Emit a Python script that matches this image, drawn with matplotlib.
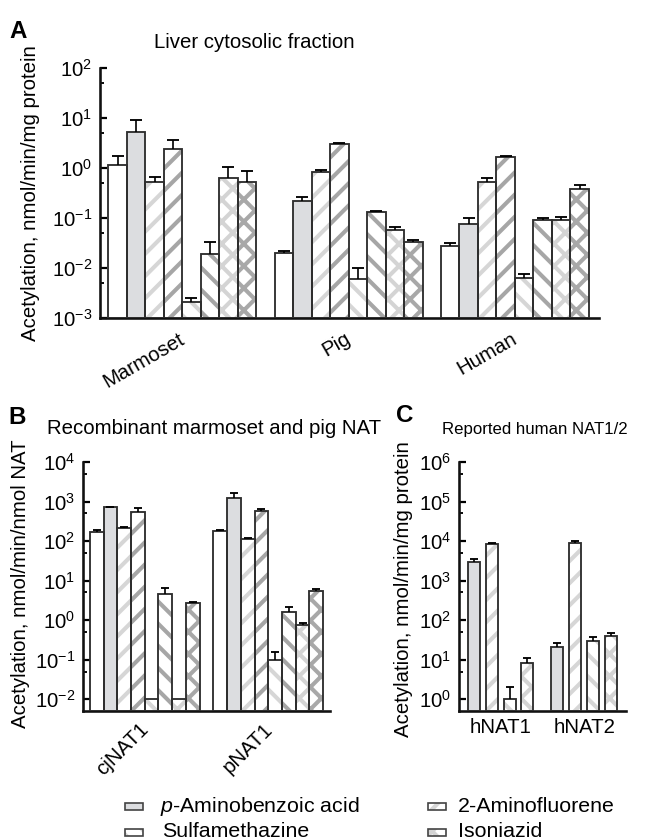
import numpy as np
import matplotlib
matplotlib.use("Agg")
import matplotlib.pyplot as plt
from matplotlib.patches import Rectangle
from matplotlib.ticker import FixedLocator, NullFormatter

plt.rcParams.update({
    "font.family": ["Liberation Sans", "DejaVu Sans"], "font.size": 11,
    "mathtext.fontset": "custom", "mathtext.rm": "Liberation Sans",
    "mathtext.it": "Liberation Sans:italic", "mathtext.bf": "Liberation Sans:bold",
    "hatch.linewidth": 2.2, "figure.facecolor": "white",
})

# ---- data (upper SD only) ----
SERIES = ["open", "paba", "af_light", "af_dark", "smz_light", "smz_dark", "inh_light", "inh_dark"]

A_GROUPS = ["Marmoset", "Pig", "Human"]
A_VALS = {
    "open":      [1.15, 0.020, 0.028],
    "paba":      [5.3, 0.22, 0.077],
    "af_light":  [0.52, 0.83, 0.53],
    "af_dark":   [2.4, 3.0, 1.65],
    "smz_light": [0.0021, 0.0060, 0.0064],
    "smz_dark":  [0.019, 0.13, 0.091],
    "inh_light": [0.62, 0.057, 0.091],
    "inh_dark":  [0.52, 0.033, 0.38],
}
A_ERR = {
    "open":      [0.6, 0.002, 0.003],
    "paba":      [3.8, 0.04, 0.025],
    "af_light":  [0.15, 0.10, 0.10],
    "af_dark":   [1.3, 0.10, 0.08],
    "smz_light": [0.0004, 0.004, 0.0012],
    "smz_dark":  [0.014, 0.01, 0.008],
    "inh_light": [0.42, 0.01, 0.012],
    "inh_dark":  [0.37, 0.003, 0.07],
}

B_GROUPS = ["cjNAT1", "pNAT1"]
B_VALS = {
    "open":      [165, 175],
    "paba":      [710, 1260],
    "af_light":  [210, 110],
    "af_dark":   [530, 560],
    "smz_light": [0.01, 0.095],
    "smz_dark":  [4.6, 1.6],
    "inh_light": [0.01, 0.74],
    "inh_dark":  [2.75, 5.3],
}
B_ERR = {
    "open":      [25, 15],
    "paba":      [15, 340],
    "af_light":  [12, 10],
    "af_dark":   [170, 90],
    "smz_light": [np.nan, 0.065],
    "smz_dark":  [1.9, 0.5],
    "inh_light": [np.nan, 0.11],
    "inh_dark":  [0.2, 1.0],
}

C_GROUPS = ["hNAT1", "hNAT2"]
C_SERIES = ["paba", "af_light", "smz_light", "inh_light"]
C_VALS = {
    "paba":      [2950, 21],
    "af_light":  [8300, 8900],
    "smz_light": [1.0, 29],
    "inh_light": [8.0, 40],
}
C_ERR = {
    "paba":      [550, 5],
    "af_light":  [700, 1100],
    "smz_light": [1.0, 8],
    "inh_light": [3.0, 7],
}

LEGEND = [("paba", r"$\it{p}$-Aminobenzoic acid"), ("af_light", "2-Aminofluorene"),
          ("smz_light", "Sulfamethazine"), ("inh_light", "Isoniazid")]

# ---- styling ----
# key -> (face, hatch, hatch colour)
STYLE = {
    "open":      ("white", "", None),
    "paba":      ("#dcdde0", "", None),
    "af_light":  ("white", "//", "#d6d6d6"),
    "af_dark":   ("white", "//", "#a6a6a6"),
    "smz_light": ("white", "\\\\", "#d6d6d6"),
    "smz_dark":  ("white", "\\\\", "#a6a6a6"),
    "inh_light": ("white", "xx", "#d4d4d4"),
    "inh_dark":  ("white", "xx", "#a8a8a8"),
}
EDGE = "#2e2e2e"
W, H, DPI = 669, 840, 133.8


def fx(x): return x / W
def fy(y): return 1 - y / H


def bars(ax, x, vals, errs, key, width, base, cap):
    face, hatch, hcol = STYLE[key]
    x = np.asarray(x, float)
    vals = np.asarray(vals, float)
    h = vals - base
    if hatch:
        ax.bar(x, h, width, bottom=base, color=face, edgecolor=hcol, hatch=hatch,
               linewidth=0, zorder=2)
    else:
        ax.bar(x, h, width, bottom=base, color=face, linewidth=0, zorder=2)
    ax.bar(x, h, width, bottom=base, fill=False, edgecolor=EDGE, linewidth=1.0, zorder=3)
    # upper error bar only: stem + one cap
    errs = np.asarray(errs, float)
    ok = ~np.isnan(errs)
    if ok.any():
        top = vals[ok] + errs[ok]
        ax.vlines(x[ok], vals[ok], top, color="black", lw=0.9, zorder=4)
        ax.plot(x[ok], top, ls="none", marker="_", ms=cap, mew=1.0, color="black", zorder=4)


def log_axis(ax, lo, hi, bottom):
    ax.set_yscale("log")
    ax.set_ylim(10.0 ** bottom, 10.0 ** hi)
    ks = list(range(lo, hi + 1))
    ax.set_yticks([10.0 ** k for k in ks], [r"$\mathregular{10^{%d}}$" % k for k in ks])
    ax.yaxis.set_minor_locator(FixedLocator([5 * 10.0 ** k for k in range(lo - 1, hi)
                                             if 5 * 10.0 ** k > 10.0 ** bottom]))
    ax.yaxis.set_minor_formatter(NullFormatter())
    ax.tick_params(axis="y", which="major", direction="in", length=4, width=1.2,
                   labelsize=11, pad=4)
    ax.tick_params(axis="y", which="minor", direction="in", length=2.2, width=1.0)
    ax.set_xticks([])
    for s in ("top", "right"):
        ax.spines[s].set_visible(False)
    for s in ("left", "bottom"):
        ax.spines[s].set_linewidth(1.4)
        ax.spines[s].set_color("#111111")


fig = plt.figure(figsize=(W / DPI, H / DPI), dpi=DPI)

# ===== A: liver cytosol =====
axA = fig.add_axes([fx(100), fy(318), 499 / W, 250 / H])
for i, key in enumerate(SERIES):
    xs = [0.45 + 9 * g + i + 0.5 for g in range(len(A_GROUPS))]
    bars(axA, xs, A_VALS[key], A_ERR[key], key, 1.0, 1e-3, 6)
axA.set_xlim(0, 27)
log_axis(axA, -3, 2, -3)
for g, name in enumerate(A_GROUPS):
    axA.text(0.45 + 9 * g + 3.8, -0.045, name, transform=axA.get_xaxis_transform(),
             ha="right", va="top", rotation=30, rotation_mode="anchor", fontsize=11)
axA.set_ylabel("Acetylation, nmol/min/mg protein", fontsize=11, va="center")
axA.yaxis.set_label_coords(-0.14, 0.50)

# ===== B: recombinant NAT =====
axB = fig.add_axes([fx(83), fy(711), 247 / W, 249 / H])
for i, key in enumerate(SERIES):
    xs = [0.5 + 9 * g + i + 0.5 for g in range(len(B_GROUPS))]
    bars(axB, xs, B_VALS[key], B_ERR[key], key, 1.0, 10 ** -2.3, 4.5)
axB.set_xlim(0, 18)
log_axis(axB, -2, 4, -2.3)
for g, name in enumerate(B_GROUPS):
    axB.text(0.5 + 9 * g + 3.6, -0.035, name, transform=axB.get_xaxis_transform(),
             ha="right", va="top", rotation=45, rotation_mode="anchor", fontsize=11)
axB.set_ylabel("Acetylation, nmol/min/nmol NAT", fontsize=11, va="center")
axB.yaxis.set_label_coords(-0.255, 0.51)

# ===== C: reported human NAT1/2 =====
axC = fig.add_axes([fx(459), fy(711), 167 / W, 249 / H])
C_START = [0.85, 5.54]
for i, key in enumerate(C_SERIES):
    xs = [C_START[g] + i for g in range(len(C_GROUPS))]
    bars(axC, xs, C_VALS[key], C_ERR[key], key, 0.68, 10 ** -0.3, 4.5)
axC.set_xlim(0, 9.4)
log_axis(axC, 0, 6, -0.3)
for g, name in enumerate(C_GROUPS):
    axC.text(C_START[g] + 1.5, -0.03, name, transform=axC.get_xaxis_transform(),
             ha="center", va="top", fontsize=11)
axC.set_ylabel("Acetylation, nmol/min/mg protein", fontsize=11, va="center")
axC.yaxis.set_label_coords(-0.335, 0.49)

# ---- titles and panel letters ----
fig.text(fx(254), fy(43), "Liver cytosolic fraction", ha="center", va="center", fontsize=11)
fig.text(fx(214), fy(428), "Recombinant marmoset and pig NAT", ha="center", va="center", fontsize=11)
fig.text(fx(535), fy(430), "Reported human NAT1/2", ha="center", va="center", fontsize=9)
for letter, (x, y) in zip("ABC", [(18, 32), (17, 418), (405, 416)]):
    fig.text(fx(x), fy(y), letter, ha="center", va="center", fontsize=13, fontweight="bold")

# ---- legend (drawn by hand: hatch colour differs from outline) ----
LEG_POS = [(125, 806, 160, 812), (428, 806, 458, 812), (125, 832, 162, 837), (428, 832, 458, 837)]
for (key, label), (px, py, tx, ty) in zip(LEGEND, LEG_POS):
    face, hatch, hcol = STYLE[key]
    r1 = Rectangle((fx(px), fy(py + 3.5)), 18 / W, 7 / H, transform=fig.transFigure,
                   facecolor=face, edgecolor=hcol if hatch else face, hatch=hatch or None,
                   linewidth=0)
    r2 = Rectangle((fx(px), fy(py + 3.5)), 18 / W, 7 / H, transform=fig.transFigure,
                   fill=False, edgecolor="#444444", linewidth=0.9)
    fig.add_artist(r1)
    fig.add_artist(r2)
    fig.text(fx(tx), fy(ty), label, ha="left", va="baseline", fontsize=11.5)

fig.savefig("out.png", dpi=DPI, facecolor="white")
